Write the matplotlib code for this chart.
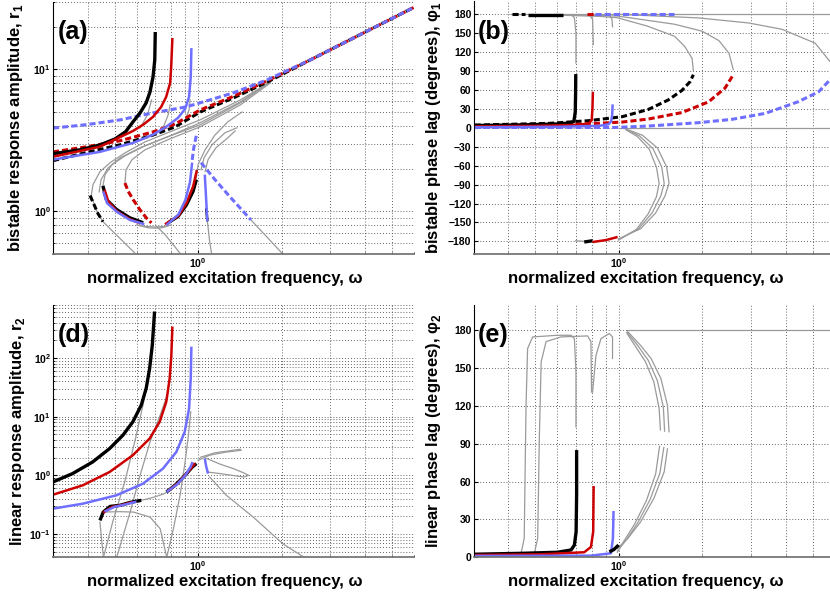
import matplotlib
matplotlib.use("Agg")
import matplotlib.pyplot as plt
from matplotlib.ticker import LogLocator, NullFormatter

plt.rcParams["font.family"] = ["Liberation Sans Narrow", "Liberation Sans", "DejaVu Sans"]
plt.rcParams["font.weight"] = "bold"

# ---------------- (a) bistable response amplitude r1 ----------------
a_blk_w = [0.30, 0.376, 0.443, 0.502, 0.548, 0.583, 0.618, 0.650, 0.671, 0.688, 0.698, 0.701]
a_blk_r = [2.54, 2.71, 2.93, 3.23, 3.63, 4.27, 4.93, 5.80, 6.92, 8.83, 11.6, 18.3]
a_red_w = [0.30, 0.443, 0.583, 0.634, 0.688, 0.736, 0.767, 0.793, 0.800, 0.808]
a_red_r = [2.42, 2.85, 3.68, 4.07, 4.62, 5.43, 6.38, 8.0, 10.4, 16.6]
a_blu_w = [0.30, 0.443, 0.583, 0.688, 0.767, 0.847, 0.898, 0.928, 0.941, 0.946]
a_blu_r = [2.31, 2.62, 3.03, 3.46, 3.93, 4.55, 5.26, 6.40, 8.83, 14.1]

a_dash_w = [0.30, 0.395, 0.524, 0.688, 0.827, 1.017, 1.34, 1.77, 2.53, 6.0]
a_blk_dash_r = [2.27, 2.59, 2.94, 3.44, 3.93, 5.0, 6.28, 8.1, 11.6, 27.3]
a_red_dash_r = [2.62, 2.84, 3.14, 3.62, 4.12, 5.17, 6.44, 8.27, 11.6, 27.3]
a_blu_dash_w = [0.30, 0.395, 0.524, 0.688, 0.905, 1.017, 1.34, 1.77, 2.53, 6.0]
a_blu_dash_r = [3.85, 4.07, 4.4, 4.93, 5.43, 5.8, 6.82, 8.41, 11.6, 27.3]

# lower loop
a_blk_dl_w = [0.408, 0.422, 0.436, 0.454]
a_blk_dl_r = [1.29, 1.11, 0.96, 0.845]
a_blk_lo1_w = [0.454, 0.467, 0.508, 0.567, 0.634]
a_blk_lo1_r = [1.51, 1.21, 1.03, 0.90, 0.83]
a_blk_lo2_w = [0.78, 0.847, 0.908, 0.959, 0.986]
a_blk_lo2_r = [0.83, 0.92, 1.11, 1.38, 1.67]
a_red_lo1_w = [0.46, 0.475, 0.51, 0.567, 0.62]
a_red_lo1_r = [1.42, 1.17, 1.0, 0.88, 0.82]
a_red_lo2_w = [0.76, 0.85, 0.91, 0.96, 0.99]
a_red_lo2_r = [0.81, 0.93, 1.15, 1.5, 1.95]
a_blu_lo1_w = [0.455, 0.47, 0.51, 0.567, 0.64]
a_blu_lo1_r = [1.38, 1.14, 0.99, 0.87, 0.81]
a_blu_lo2_w = [0.77, 0.85, 0.90, 0.935, 0.952]
a_blu_lo2_r = [0.80, 0.95, 1.2, 1.6, 2.2]
a_blu_lo_dash_w = [0.952, 0.965, 0.985]
a_blu_lo_dash_r = [2.3, 2.8, 3.4]
a_red_lo_dash_w = [0.545, 0.56, 0.583, 0.617, 0.651, 0.679]
a_red_lo_dash_r = [1.58, 1.38, 1.21, 1.026, 0.897, 0.828]
a_blu_vert_w = [1.057, 1.065, 1.075, 1.08]
a_blu_vert_r = [1.81, 1.4, 1.0, 0.85]
a_blk_vert_w = [1.07, 1.08]
a_blk_vert_r = [1.05, 0.85]
a_blu_desc_w = [1.025, 1.15, 1.30, 1.55]
a_blu_desc_r = [2.2, 1.67, 1.27, 0.87]

# thin grey branches
a_gray = [
    ([1.55, 2.0], [0.87, 0.51]),
    ([1.08, 1.10, 1.117], [0.85, 0.62, 0.51]),
    ([0.591, 0.515, 0.454, 0.429, 0.412, 0.418, 0.443, 0.482, 0.546, 0.644, 0.793, 1.017, 1.42, 1.82],
     [0.509, 0.663, 0.845, 1.026, 1.29, 1.54, 1.90, 2.2, 2.58, 3.08, 3.63, 4.4, 6.08, 8.14]),
    ([0.454, 0.462, 0.49, 0.546, 0.644, 0.793, 1.017, 1.42, 1.82],
     [1.51, 1.81, 2.13, 2.46, 2.89, 3.40, 4.2, 5.89, 8.14]),
    ([0.545, 0.55, 0.578, 0.644, 0.793, 1.017, 1.42, 1.82],
     [1.59, 1.96, 2.31, 2.71, 3.24, 3.93, 5.61, 8.0]),
    ([0.44, 0.447, 0.474, 0.524, 0.618, 0.76, 1.017, 1.42, 1.82],
     [1.37, 1.67, 2.02, 2.38, 2.8, 3.29, 4.06, 5.8, 8.14]),
    ([0.984, 1.0, 1.06, 1.15, 1.28, 1.44], [1.67, 2.13, 2.71, 3.44, 4.26, 5.0]),
    ([1.025, 1.051, 1.123, 1.25, 1.38], [1.96, 2.38, 2.94, 3.57, 3.87]),
    ([1.06, 1.086, 1.16, 1.28, 1.36], [1.90, 2.31, 2.8, 3.29, 3.68]),
    ([0.60, 0.65, 0.70, 0.75, 0.80], [0.80, 0.78, 0.775, 0.78, 0.80]),
    ([0.62, 0.66, 0.70, 0.74, 0.78], [0.79, 0.765, 0.76, 0.765, 0.79]),
    ([0.708, 0.76, 0.859], [0.783, 0.685, 0.509]),
    ([0.618, 0.657, 0.68], [3.87, 4.77, 6.08]),
    ([0.748, 0.78, 0.793], [3.87, 4.77, 5.61]),
    ([0.898, 0.928, 0.936], [4.4, 5.17, 6.08]),
]

# ---------------- (b) bistable phase lag phi1 ----------------
b_blk_w = [0.30, 0.45, 0.60, 0.67, 0.69, 0.698, 0.700, 0.701]
b_blk_d = [3.5, 4.5, 6.0, 7.5, 10, 25, 55, 85]
b_red_w = [0.30, 0.50, 0.70, 0.78, 0.80, 0.805, 0.808]
b_red_d = [2.0, 3.0, 4.5, 6.5, 12, 30, 57]
b_blu_w = [0.30, 0.60, 0.85, 0.92, 0.94, 0.948, 0.952]
b_blu_d = [0.8, 1.5, 3.0, 5.5, 10, 20, 37]
b_blk_dash_w = [0.303, 0.56, 0.78, 1.03, 1.28, 1.51, 1.69, 1.81, 1.86]
b_blk_dash_d = [4.2, 6.9, 11.2, 17.5, 29, 44, 59, 73, 84]
b_red_dash_w = [0.303, 0.738, 1.03, 1.28, 1.69, 2.11, 2.42, 2.59]
b_red_dash_d = [2.7, 5.8, 9.0, 13.8, 24, 41, 63, 84]
b_blu_dash_w = [0.303, 0.973, 1.28, 1.94, 2.56, 3.38, 4.45, 5.26, 5.9]
b_blu_dash_d = [0.5, 0.5, 2.7, 8, 13.3, 22.8, 41.4, 57, 80]
b_top_blk_dash_w = [0.413, 0.461]
b_top_blk_w = [0.47, 0.628]
b_top_red_dash_w = [0.77, 0.824]
b_top_blu_dash_w = [0.82, 1.58]
b_low_blk_w = [0.752, 0.806]
b_low_blk_d = [-181, -179]
b_low_red_w = [0.806, 0.90, 0.992]
b_low_red_d = [-181, -178, -173]
b_gray = [
    ([0.41, 6.0], [180, 180]),
    ([1.0, 6.0], [0, 0]),
    ([0.674, 0.693, 0.702, 0.702], [179.5, 174.3, 150, 102.6]),
    ([0.784, 0.806, 0.811], [179.5, 171.5, 131.7]),
    ([0.926, 0.947, 0.951], [179.5, 171.5, 160]),
    ([0.48, 0.65, 0.85, 0.99, 1.27, 1.59, 1.73, 1.84, 1.86], [179.5, 178, 176.5, 174.3, 161, 145, 129, 110, 90]),
    ([0.6, 0.99, 1.59, 2.0, 2.3, 2.5, 2.59], [179.5, 177, 164, 153, 138, 118, 92]),
    ([0.97, 1.94, 2.94, 3.88, 5.11, 5.9], [180, 174, 166, 156, 134, 100]),
    ([0.70, 0.76], [-179, -180]),
    ([1.0, 1.2, 1.36, 1.47, 1.52, 1.49, 1.38, 1.22, 1.08], [-176, -160, -135, -108, -88, -62, -32, -12, -3]),
    ([1.0, 1.18, 1.32, 1.42, 1.46, 1.43, 1.33, 1.19, 1.07], [-177, -160, -135, -108, -88, -62, -33, -13, -3]),
    ([1.0, 1.16, 1.28, 1.37, 1.40, 1.37, 1.29, 1.17, 1.06], [-178, -161, -136, -109, -88, -63, -34, -14, -3]),
]

# ---------------- (d) linear response amplitude r2 ----------------
d_blk_w = [0.30, 0.353, 0.417, 0.48, 0.536, 0.582, 0.624, 0.65, 0.669, 0.684, 0.693, 0.697]
d_blk_r = [0.77, 1.07, 1.69, 2.86, 4.83, 8.16, 15.7, 30.3, 66.5, 167, 417, 620]
d_red_w = [0.30, 0.384, 0.48, 0.582, 0.669, 0.727, 0.768, 0.79, 0.801, 0.808]
d_red_r = [0.467, 0.675, 1.14, 2.2, 4.23, 8.16, 17.9, 44.9, 112, 343]
d_blu_w = [0.30, 0.384, 0.507, 0.633, 0.747, 0.835, 0.895, 0.928, 0.941, 0.946]
d_blu_r = [0.27, 0.328, 0.455, 0.72, 1.3, 2.5, 5.5, 13.8, 44.9, 156]
d_blk_lo1_w = [0.443, 0.455, 0.482, 0.522, 0.569, 0.624]
d_blk_lo1_r = [0.17, 0.236, 0.295, 0.307, 0.345, 0.374]
d_blk_lo2_w = [0.769, 0.826, 0.898, 0.951, 0.986]
d_blk_lo2_r = [0.519, 0.675, 1.0, 1.37, 1.58]
d_red_lo1_w = [0.455, 0.49, 0.53, 0.58]
d_red_lo1_r = [0.23, 0.29, 0.31, 0.35]
d_red_lo2_w = [0.78, 0.85, 0.92, 0.975]
d_red_lo2_r = [0.54, 0.75, 1.15, 1.6]
d_blu_lo1_w = [0.46, 0.50, 0.55, 0.60]
d_blu_lo1_r = [0.24, 0.29, 0.32, 0.355]
d_blu_lo2_w = [0.77, 0.84, 0.90, 0.94, 0.955]
d_blu_lo2_r = [0.52, 0.70, 1.0, 1.4, 1.69]
d_blu_hook_w = [1.057, 1.07, 1.087]
d_blu_hook_r = [1.93, 1.4, 1.07]
d_gray = [
    ([0.456, 0.494, 0.546, 0.593, 0.633, 0.671], [0.04, 0.17, 0.82, 3.96, 15.7, 67]),
    ([0.509, 0.569, 0.618, 0.671, 0.73, 0.782], [0.04, 0.236, 1.0, 3.7, 10.6, 26.6]),
    ([0.771, 0.815, 0.861, 0.898, 0.923, 0.941], [0.04, 0.123, 0.455, 1.69, 4.83, 12.1]),
    ([0.456, 0.52, 0.585, 0.671, 0.73, 0.771], [0.236, 0.24, 0.236, 0.194, 0.123, 0.04]),
    ([0.443, 0.45, 0.456], [0.159, 0.072, 0.04]),
    ([0.60, 0.65, 0.70, 0.75, 0.80], [0.365, 0.39, 0.43, 0.48, 0.56]),
    ([1.0, 1.1, 1.25, 1.43], [1.8, 2.2, 2.47, 2.67]),
    ([1.02, 1.15, 1.3, 1.42], [2.03, 2.42, 2.62, 2.78]),
    ([1.075, 1.2, 1.34, 1.46, 1.52, 1.46, 1.2, 1.075], [1.93, 1.55, 1.30, 1.1, 1.0, 0.935, 1.07, 1.14]),
    ([1.10, 1.265, 1.58, 2.02, 2.43], [0.935, 0.455, 0.194, 0.068, 0.039]),
]

# ---------------- (e) linear phase lag phi2 ----------------
e_blk_w = [0.298, 0.454, 0.602, 0.674, 0.693, 0.703, 0.706, 0.706]
e_blk_d = [2.4, 3.2, 4.0, 5.8, 9.7, 20.3, 50, 85]
e_red_w = [0.298, 0.526, 0.752, 0.795, 0.81, 0.813]
e_red_d = [1.8, 2.4, 4.0, 8.2, 20.3, 56.5]
e_blu_w = [0.298, 0.795, 0.939, 0.954, 0.959]
e_blu_d = [1.1, 1.3, 3.2, 15, 36.7]
e_blk_bit_w = [0.926, 0.96, 1.0]
e_blk_bit_d = [4.4, 6, 9.7]
e_gray = [
    ([0.445, 0.457, 0.464, 0.47, 0.49, 0.603, 0.674, 0.693, 0.702, 0.702],
     [3, 15, 120.6, 165.5, 174.7, 176, 176, 173.4, 147, 103.4]),
    ([0.497, 0.511, 0.518, 0.526, 0.548, 0.62, 0.773, 0.795, 0.799],
     [3, 15, 94, 155, 171, 174.7, 175.5, 171, 131]),
    ([0.806, 0.829, 0.864, 0.926, 0.951, 0.951], [131, 160, 173.4, 177.4, 174.7, 157.6]),
    ([1.07, 6.0], [180, 180]),
    ([1.08, 1.11, 1.2, 1.31, 1.42, 1.50, 1.52], [178.7, 176, 168, 157.6, 141.8, 120.6, 99.5]),
    ([1.50, 1.46, 1.34, 1.2, 1.08, 0.99], [86, 67.8, 46.7, 28, 15, 7]),
    ([1.075, 1.10, 1.18, 1.28, 1.38, 1.45, 1.465], [178.5, 175.5, 167, 156, 140, 119, 100]),
    ([1.455, 1.41, 1.30, 1.17, 1.06, 0.99], [87, 67, 46, 27, 13, 5]),
    ([1.07, 1.09, 1.16, 1.25, 1.34, 1.40, 1.415], [178, 175, 166, 155, 139, 118, 101]),
    ([1.405, 1.36, 1.26, 1.14, 1.04, 0.99], [88, 66, 45, 26, 12, 4]),
]

BLACK = "#000000"
RED = "#cc0000"
BLUE = "#6f6fff"
GRAY = "#9a9a9a"
DASH = (0, (2.0, 1.0))


def solid(ax, w, v, c, lw=1.8):
    ax.plot(w, v, color=c, lw=lw, solid_capstyle="butt", solid_joinstyle="round")


def dashed(ax, w, v, c, lw=2.2):
    ax.plot(w, v, color=c, lw=lw, ls=DASH, dash_capstyle="butt")


def grays(ax, curves):
    for w, v in curves:
        ax.plot(w, v, color=GRAY, lw=0.9)


def style_axes(ax, logy, ylabel, tag, label_x):
    ax.set_xscale("log")
    ax.set_xlim(0.3, 6)
    ax.xaxis.set_minor_formatter(NullFormatter())
    if logy:
        ax.set_yscale("log")
        ax.yaxis.set_minor_locator(LogLocator(base=10, subs=range(2, 10)))
        ax.yaxis.set_minor_formatter(NullFormatter())
    for s in ("top", "right"):
        ax.spines[s].set_visible(False)
    ax.spines["left"].set_color("black")
    ax.spines["bottom"].set_color("#777777")
    ax.spines["bottom"].set_linewidth(1.3)
    ax.grid(True, which="both", linestyle=(0, (1, 2.5)), color="#333333", lw=0.6)
    ax.set_axisbelow(True)
    ax.tick_params(which="major", direction="in", length=3, labelsize=7.5, pad=1.5)
    ax.tick_params(which="minor", direction="in", length=1.5)
    ax.set_xlabel("normalized excitation frequency, ω", fontsize=12, fontweight="bold")
    ax.xaxis.set_label_coords(0.476, -0.068)
    ax.xaxis.label.set_va("top")
    ax.set_ylabel(ylabel, fontsize=12, fontweight="bold")
    ax.yaxis.set_label_coords(label_x, 0.5)
    ax.text(0.012, 0.88, tag, transform=ax.transAxes, fontsize=18, fontweight="bold",
            family="Liberation Sans", va="center", ha="left")


fig = plt.figure(figsize=(8.3, 5.98), dpi=100)
W, H = 830.0, 598.0
ax_a = fig.add_axes([53 / W, (H - 254) / H, 361 / W, 252.5 / H])
ax_b = fig.add_axes([473.5 / W, (H - 254) / H, 361 / W, 252.5 / H])
ax_d = fig.add_axes([53 / W, (H - 557.3) / H, 361 / W, 252.3 / H])
ax_e = fig.add_axes([473.5 / W, (H - 557.3) / H, 361 / W, 252.3 / H])

# (a)
ax = ax_a
grays(ax, a_gray)
dashed(ax, a_dash_w, a_blk_dash_r, BLACK)
dashed(ax, a_dash_w, a_red_dash_r, RED)
dashed(ax, a_blu_dash_w, a_blu_dash_r, BLUE)
dashed(ax, a_blk_dl_w, a_blk_dl_r, BLACK)
dashed(ax, a_red_lo_dash_w, a_red_lo_dash_r, RED)
dashed(ax, a_blu_lo_dash_w, a_blu_lo_dash_r, BLUE)
dashed(ax, a_blu_desc_w, a_blu_desc_r, BLUE)
solid(ax, a_blk_w, a_blk_r, BLACK, 2.4)
solid(ax, a_red_w, a_red_r, RED)
solid(ax, a_blu_w, a_blu_r, BLUE)
solid(ax, a_blk_lo1_w, a_blk_lo1_r, BLACK, 2.4)
solid(ax, a_blk_lo2_w, a_blk_lo2_r, BLACK, 2.4)
solid(ax, a_red_lo1_w, a_red_lo1_r, RED)
solid(ax, a_red_lo2_w, a_red_lo2_r, RED)
solid(ax, a_blu_lo1_w, a_blu_lo1_r, BLUE)
solid(ax, a_blu_lo2_w, a_blu_lo2_r, BLUE)
solid(ax, a_blk_vert_w, a_blk_vert_r, BLACK)
solid(ax, a_blu_vert_w, a_blu_vert_r, BLUE)
style_axes(ax, True, "bistable response amplitude, r$_\\mathdefault{1}$", "(a)", -0.078)
ax.set_ylim(0.5, 30)

# (b)
ax = ax_b
grays(ax, b_gray)
dashed(ax, b_blk_dash_w, b_blk_dash_d, BLACK)
dashed(ax, b_red_dash_w, b_red_dash_d, RED)
dashed(ax, b_blu_dash_w, b_blu_dash_d, BLUE)
dashed(ax, b_top_blk_dash_w, [180, 180], BLACK)
dashed(ax, b_top_red_dash_w, [180, 180], RED)
dashed(ax, b_top_blu_dash_w, [180, 180], BLUE)
solid(ax, b_top_blk_w, [179, 179], BLACK, 2.4)
solid(ax, b_blk_w, b_blk_d, BLACK, 2.4)
solid(ax, b_red_w, b_red_d, RED)
solid(ax, b_blu_w, b_blu_d, BLUE)
solid(ax, b_low_blk_w, b_low_blk_d, BLACK, 2.4)
solid(ax, b_low_red_w, b_low_red_d, RED)
style_axes(ax, False, "bistable phase lag (degrees), φ$_\\mathdefault{1}$", "(b)", -0.085)
ax.set_ylim(-200, 200)
ax.set_yticks(range(-180, 181, 30))

# (d)
ax = ax_d
grays(ax, d_gray)
solid(ax, d_blk_w, d_blk_r, BLACK, 2.4)
solid(ax, d_red_w, d_red_r, RED)
solid(ax, d_blu_w, d_blu_r, BLUE)
solid(ax, d_blk_lo1_w, d_blk_lo1_r, BLACK, 2.4)
solid(ax, d_blk_lo2_w, d_blk_lo2_r, BLACK, 2.4)
solid(ax, d_red_lo1_w, d_red_lo1_r, RED)
solid(ax, d_red_lo2_w, d_red_lo2_r, RED)
solid(ax, d_blu_lo1_w, d_blu_lo1_r, BLUE)
solid(ax, d_blu_lo2_w, d_blu_lo2_r, BLUE)
solid(ax, d_blu_hook_w, d_blu_hook_r, BLUE)
style_axes(ax, True, "linear response amplitude, r$_\\mathdefault{2}$", "(d)", -0.072)
ax.set_ylim(0.04, 800)

# (e)
ax = ax_e
grays(ax, e_gray)
solid(ax, e_blk_w, e_blk_d, BLACK, 2.4)
solid(ax, e_red_w, e_red_d, RED)
solid(ax, e_blu_w, e_blu_d, BLUE)
solid(ax, e_blk_bit_w, e_blk_bit_d, BLACK, 2.4)
style_axes(ax, False, "linear phase lag (degrees), φ$_\\mathdefault{2}$", "(e)", -0.085)
ax.set_ylim(0, 200)
ax.set_yticks(range(0, 181, 30))

fig.savefig("out.png", dpi=100)
